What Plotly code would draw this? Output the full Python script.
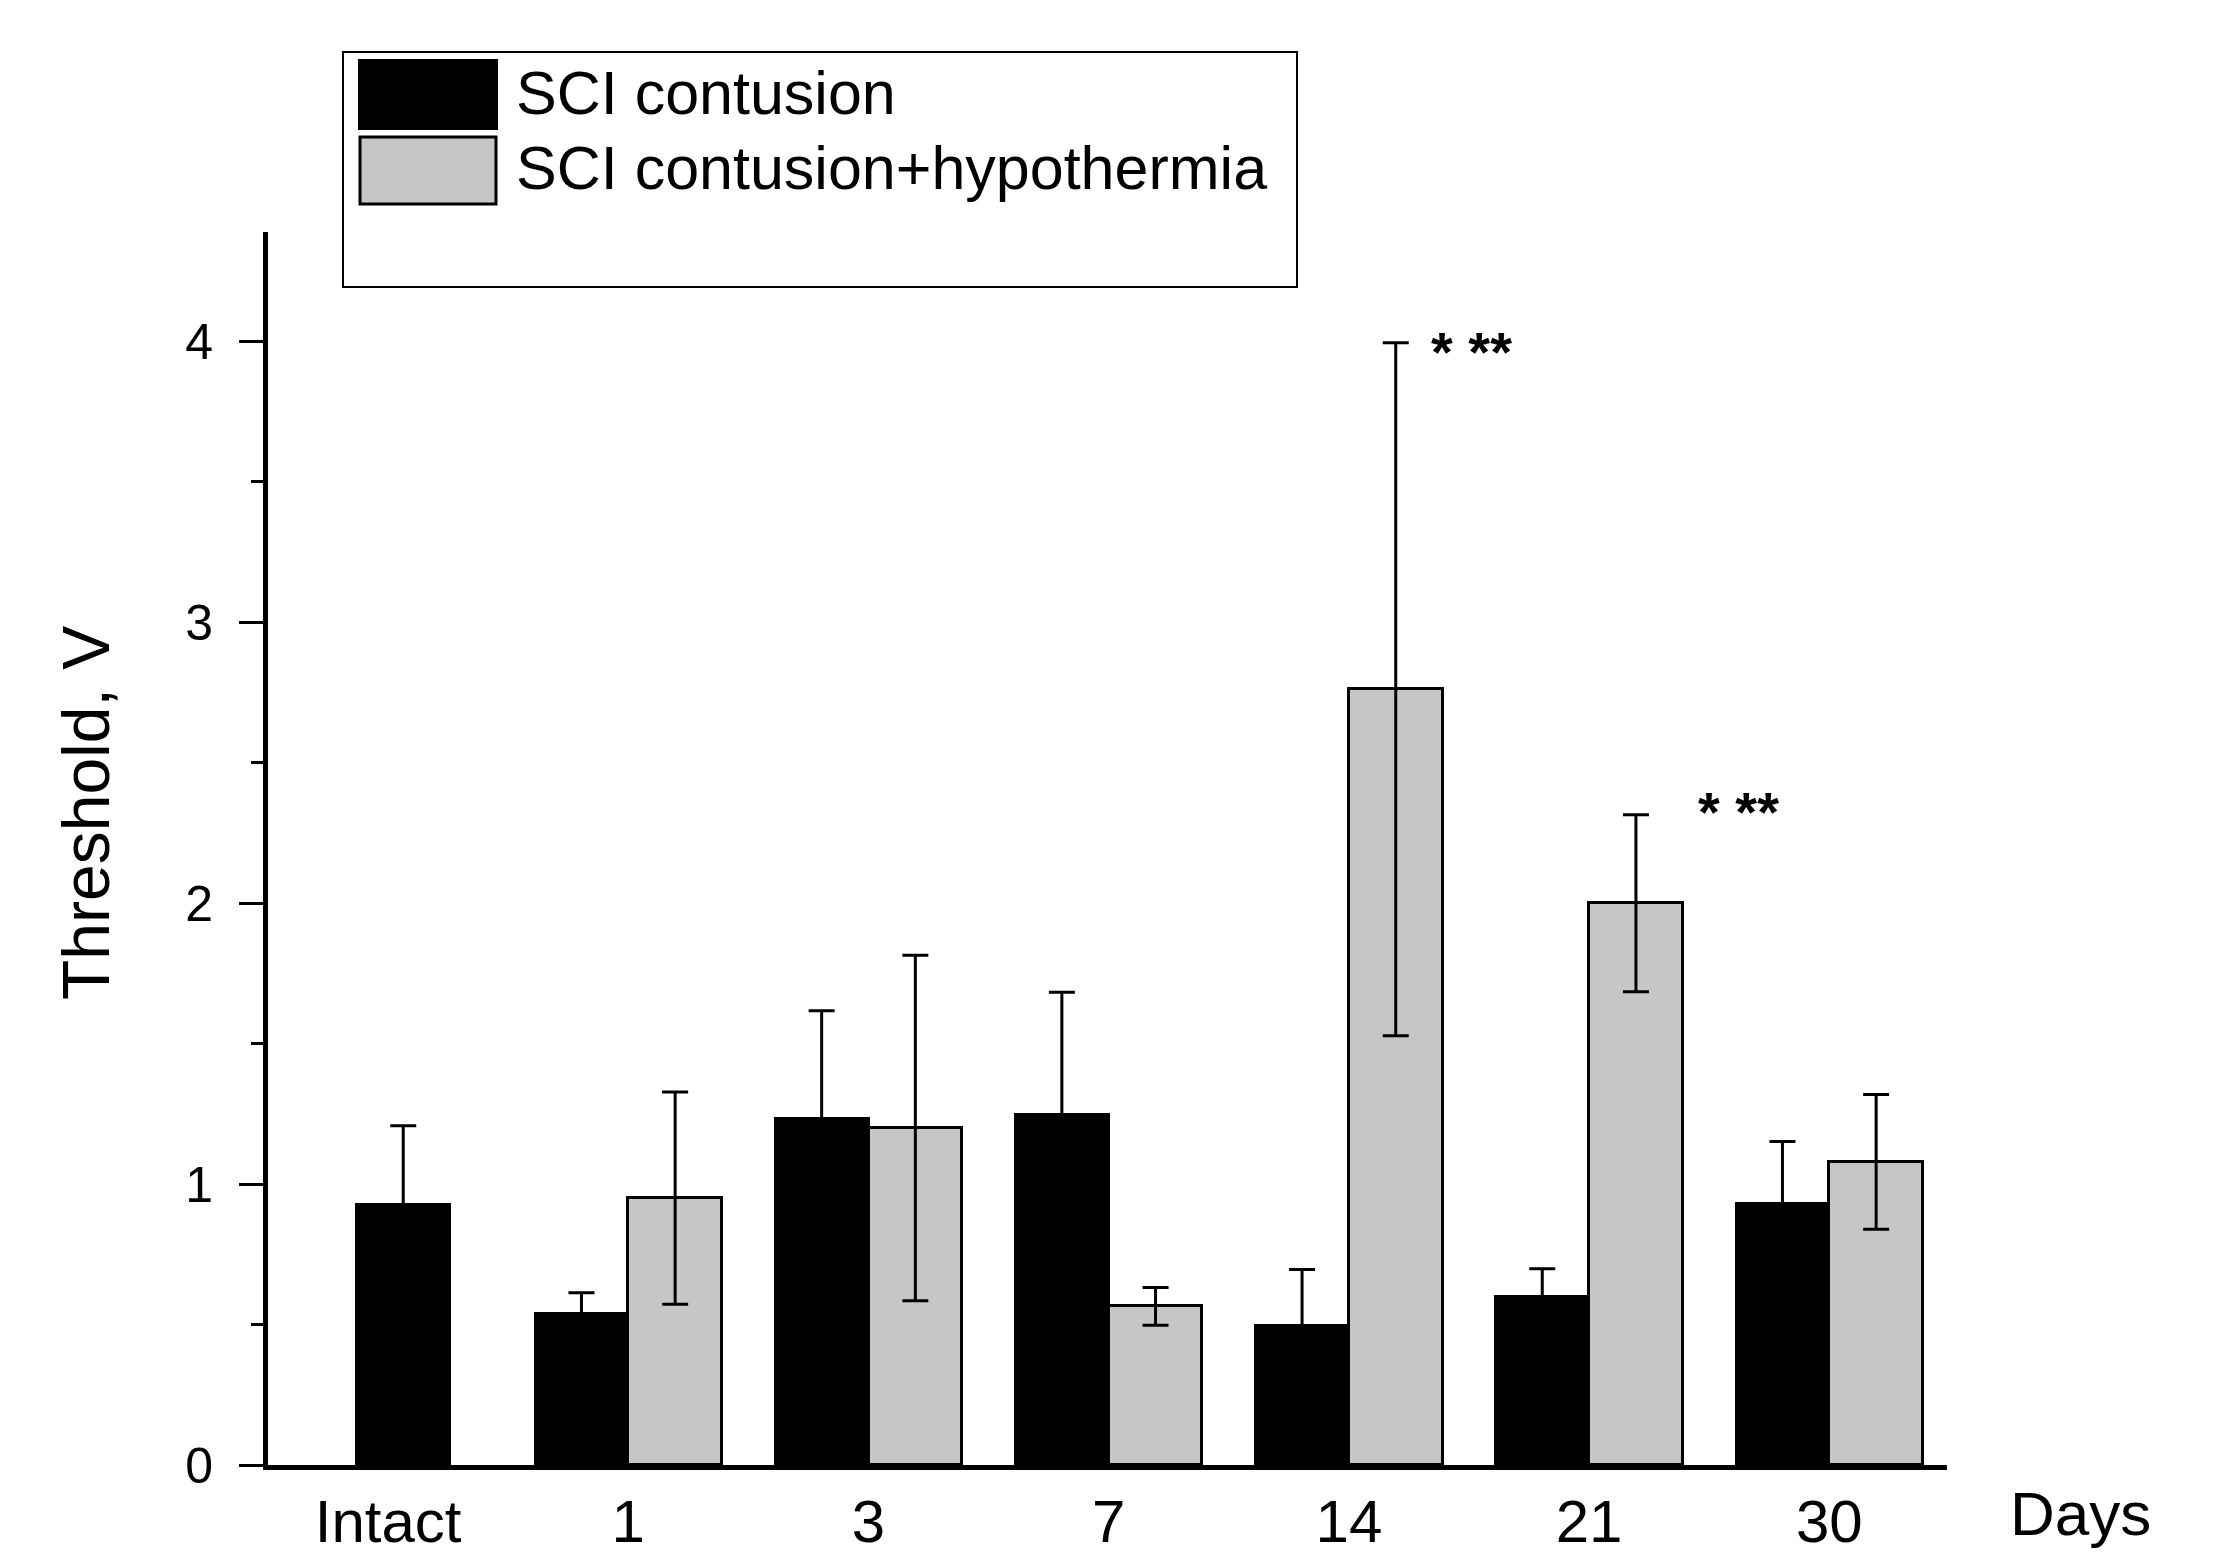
import plotly.graph_objects as go

# ---- data ----
categories = ["Intact", "1", "3", "7", "14", "21", "30"]
contusion = [0.93, 0.54, 1.235, 1.25, 0.50, 0.60, 0.933]
contusion_err = [0.278, 0.073, 0.382, 0.433, 0.196, 0.099, 0.219]
hypothermia = [None, 0.95, 1.20, 0.565, 2.762, 2.00, 1.079]
hypothermia_err = [None, 0.378, 0.615, 0.067, 1.234, 0.315, 0.240]
signif_labels = {"14": "* **", "21": "* **"}

# ---- layout geometry (page pixels of the 2214x1557 window) ----
FIG_W, FIG_H = 2214, 1557
L, R, T, B = 268, 1947, 232, 1465  # plot area
PW, PH = R - L, B - T


def px(xp):
    return (xp - L) / PW


def py(yp):
    return (B - yp) / PH


FONT = "Liberation Sans, Arial, sans-serif"
BAR_W = 0.39
GRAY = "#c6c6c6"

pos = list(range(len(categories)))
black_x = [i + (0.063 if c == "Intact" else -BAR_W / 2) for i, c in zip(pos, categories)]
gray_x = [i + BAR_W / 2 for i in pos]

fig = go.Figure()
fig.add_trace(go.Bar(
    x=black_x, y=contusion, width=BAR_W,
    marker=dict(color="black", line=dict(color="black", width=2)),
    error_y=dict(type="data", array=contusion_err, color="black", thickness=3, width=13),
    name="SCI contusion", showlegend=False,
))
fig.add_trace(go.Bar(
    x=gray_x, y=hypothermia, width=BAR_W,
    marker=dict(color=GRAY, line=dict(color="black", width=3)),
    error_y=dict(type="data", array=hypothermia_err, color="black", thickness=3, width=13),
    name="SCI contusion+hypothermia", showlegend=False,
))

annotations = []
# significance marks
sig_dx = {"14": 0.333, "21": 0.447}
sig_dy = {"14": -0.03, "21": 0.01}
for c, txt in signif_labels.items():
    i = categories.index(c)
    top = hypothermia[i] + hypothermia_err[i]
    annotations.append(dict(
        x=i + sig_dx[c], y=top + sig_dy[c], xref="x", yref="y", text="<b>" + txt + "</b>",
        showarrow=False, xanchor="left", yanchor="middle",
        font=dict(family=FONT, size=56, color="black"),
    ))

# axis titles
annotations.append(dict(
    x=px(86), y=py(813), xref="paper", yref="paper", text="Threshold, V",
    textangle=-90, showarrow=False, xanchor="center", yanchor="middle",
    font=dict(family=FONT, size=66, color="black"),
))
annotations.append(dict(
    x=px(2080), y=py(1513), xref="paper", yref="paper", text="Days",
    showarrow=False, xanchor="center", yanchor="middle",
    font=dict(family=FONT, size=62, color="black"),
))

# legend (drawn manually)
shapes = [
    dict(type="rect", xref="paper", yref="paper", x0=px(343), x1=px(1297), y0=py(287), y1=py(52),
         line=dict(color="black", width=2), fillcolor="white", layer="above"),
    dict(type="rect", xref="paper", yref="paper", x0=px(359), x1=px(497), y0=py(129), y1=py(60),
         line=dict(color="black", width=2), fillcolor="black", layer="above"),
    dict(type="rect", xref="paper", yref="paper", x0=px(360), x1=px(496), y0=py(204), y1=py(137),
         line=dict(color="black", width=3), fillcolor=GRAY, layer="above"),
]
for name, yc in [("SCI contusion", 93), ("SCI contusion+hypothermia", 168)]:
    annotations.append(dict(
        x=px(514), y=py(yc), xref="paper", yref="paper", text=name,
        showarrow=False, xanchor="left", yanchor="middle",
        font=dict(family=FONT, size=61, color="black"),
    ))

fig.update_layout(
    width=FIG_W, height=FIG_H,
    margin=dict(l=L, r=FIG_W - R, t=T, b=FIG_H - B, pad=0, autoexpand=False),
    paper_bgcolor="white", plot_bgcolor="white",
    barmode="overlay", bargap=0,
    annotations=annotations, shapes=shapes,
    font=dict(family=FONT, color="black"),
)
fig.update_xaxes(
    range=[-0.5, 6.49], tickvals=pos, ticktext=categories,
    showline=True, linecolor="black", linewidth=5, ticks="",
    showgrid=False, zeroline=False, automargin=False,
    tickfont=dict(family=FONT, size=60, color="black"), ticklabelstandoff=0,
)
fig.update_yaxes(
    range=[0, 4.39], tickvals=[0, 1, 2, 3, 4],
    showline=True, linecolor="black", linewidth=5,
    ticks="outside", ticklen=24, tickwidth=3, tickcolor="black",
    minor=dict(dtick=0.5, ticks="outside", ticklen=12, tickwidth=3, tickcolor="black", showgrid=False),
    showgrid=False, zeroline=False, automargin=False,
    tickfont=dict(family=FONT, size=50, color="black"), ticklabelstandoff=16,
)

fig.write_html(
    "out.html",
    config={"displayModeBar": False},
    post_script="document.body.style.margin='0';document.body.style.overflow='hidden';",
)
